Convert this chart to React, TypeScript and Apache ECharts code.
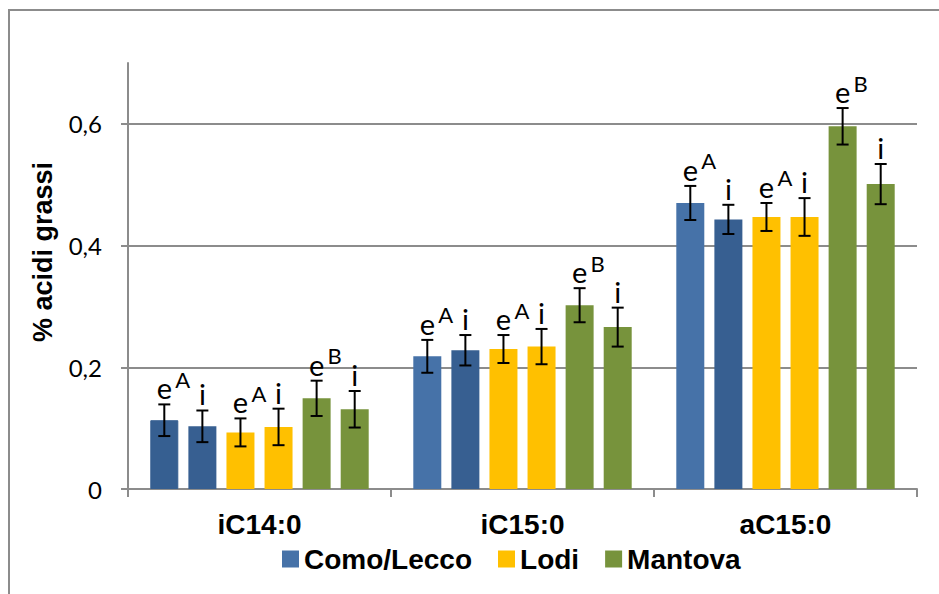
import React, { useEffect, useRef } from 'react';
import * as echarts from 'echarts';

const categories = ['iC14:0', 'iC15:0', 'aC15:0'];
const legendNames = ['Como/Lecco', 'Lodi', 'Mantova'];
const seriesNames = ['Como/Lecco', 'Como/Lecco (2)', 'Lodi', 'Lodi (2)', 'Mantova', 'Mantova (2)'];

const comoLecco1 = [0.113, 0.218, 0.470];
const comoLecco2 = [0.103, 0.228, 0.443];
const lodi1 = [0.093, 0.230, 0.447];
const lodi2 = [0.102, 0.234, 0.447];
const mantova1 = [0.149, 0.302, 0.596];
const mantova2 = [0.131, 0.266, 0.501];

const errComoLecco1 = [0.026, 0.027, 0.028];
const errComoLecco2 = [0.026, 0.025, 0.024];
const errLodi1 = [0.023, 0.023, 0.023];
const errLodi2 = [0.030, 0.029, 0.031];
const errMantova1 = [0.029, 0.028, 0.030];
const errMantova2 = [0.030, 0.032, 0.033];

const mainLabels = ['e', 'i', 'e', 'i', 'e', 'i'];
const supLabels = ['A', '', 'A', '', 'B', ''];
const yTicks = [0, 0.2, 0.4, 0.6];

const values = [comoLecco1, comoLecco2, lodi1, lodi2, mantova1, mantova2];
const errors = [errComoLecco1, errComoLecco2, errLodi1, errLodi2, errMantova1, errMantova2];
const colors = ['#4672A8', '#375F91', '#FFC000', '#FFC000', '#77933C', '#77933C'];

const BAR_W = 28;
const BAR_GAP = 0.36;

export default function App() {
  const ref = useRef<HTMLDivElement>(null);
  useEffect(() => {
    if (!ref.current) return;
    const chart = echarts.init(ref.current, null, { renderer: 'svg' });

    const barSeries = values.map((vals, k) => ({
      type: 'bar',
      name: seriesNames[k],
      barWidth: BAR_W,
      barGap: BAR_GAP * 100 + '%',
      itemStyle: { color: colors[k] },
      data: vals.map((v, c) =>
        k === 0 && c === 0
          ? { value: v, itemStyle: { color: '#365F91', borderColor: '#365F91', borderWidth: 1 } }
          : v
      ),
    }));

    const errData: number[][] = [];
    categories.forEach((_, c) => {
      values.forEach((vals, k) => {
        errData.push([c, k, vals[c], vals[c] - errors[k][c], vals[c] + errors[k][c]]);
      });
    });

    const errSeries = {
      type: 'custom',
      name: 'err',
      clip: false,
      encode: { x: 0, y: [2, 3, 4] },
      data: errData,
      z: 10,
      renderItem: (params: any, api: any) => {
        const c = api.value(0);
        const k = api.value(1);
        const lo = api.value(3);
        const hi = api.value(4);
        const pitch = BAR_W * (1 + BAR_GAP);
        const x = api.coord([c, 0])[0] + (k - 2.5) * pitch;
        const yHi = api.coord([c, hi])[1];
        const yLo = api.coord([c, lo])[1];
        const cap = 6;
        const ls = { stroke: '#000', lineWidth: 2 };
        const y0 = yHi - 2;
        const children: any[] = [
          { type: 'line', shape: { x1: x, y1: yHi, x2: x, y2: yLo }, style: ls },
          { type: 'line', shape: { x1: x - cap, y1: yHi, x2: x + cap, y2: yHi }, style: ls },
          { type: 'line', shape: { x1: x - cap, y1: yLo, x2: x + cap, y2: yLo }, style: ls },
          {
            type: 'text',
            x: x,
            y: y0,
            style: {
              text: mainLabels[k],
              fontSize: 29,
              fontFamily: 'Lato',
              fill: '#000',
              align: 'center',
              textAlign: 'center',
              verticalAlign: 'bottom',
              textVerticalAlign: 'bottom',
            },
          },
        ];
        if (supLabels[k]) {
          children.push({
            type: 'text',
            x: x + 11,
            y: y0 - 12,
            style: {
              text: supLabels[k],
              fontSize: 22,
              fontFamily: 'Lato',
              fill: '#000',
              align: 'left',
              textAlign: 'left',
              verticalAlign: 'bottom',
              textVerticalAlign: 'bottom',
            },
          });
        }
        return { type: 'group', children };
      },
    };

    const gray = '#8c8c8c';
    chart.setOption({
      animation: false,
      backgroundColor: '#ffffff',
      grid: { left: 128, right: 22, top: 63, bottom: 105, containLabel: false },
      legend: {
        data: legendNames,
        left: 277,
        top: 540,
        icon: 'rect',
        itemWidth: 17,
        itemHeight: 17,
        itemGap: 26,
        textStyle: { fontFamily: 'Liberation Sans', fontWeight: 'bold', fontSize: 28, color: '#000' },
      },
      xAxis: {
        type: 'category',
        data: categories,
        axisLine: { show: true, lineStyle: { color: gray, width: 2 } },
        axisTick: { show: true, length: 8, lineStyle: { color: gray, width: 2 } },
        axisLabel: {
          margin: 21,
          fontFamily: 'Liberation Sans',
          fontWeight: 'bold',
          fontSize: 28,
          color: '#000',
        },
        splitLine: { show: false },
      },
      yAxis: {
        type: 'value',
        min: 0,
        max: 0.7,
        interval: 0.2,
        axisLine: { show: true, lineStyle: { color: gray, width: 2 } },
        axisTick: { show: true, length: 7, lineStyle: { color: gray, width: 2 }, customValues: yTicks },
        axisLabel: {
          customValues: yTicks,
          margin: 26,
          fontFamily: 'Lato',
          fontSize: 24,
          color: '#000',
          formatter: (v: number) => (v > 0.65 ? '' : String(Math.round(v * 10) / 10).replace('.', ',')),
        },
        splitLine: {
          show: true,
          lineStyle: { color: [gray, gray, gray, gray, 'rgba(0,0,0,0)'], width: 2 },
        },
      },
      graphic: [
        {
          type: 'rect',
          shape: { x: 9, y: 10, width: 1200, height: 1200 },
          style: { fill: 'none', stroke: gray, lineWidth: 2 },
          silent: true,
        },
        {
          type: 'text',
          x: 43,
          y: 252,
          rotation: Math.PI / 2,
          style: {
            text: '% acidi grassi',
            fontFamily: 'Liberation Sans',
            fontWeight: 'bold',
            fontSize: 27,
            fill: '#000',
            align: 'center',
            textAlign: 'center',
            verticalAlign: 'middle',
            textVerticalAlign: 'middle',
          },
        },
      ],
      series: [...barSeries, errSeries],
    });
    return () => chart.dispose();
  }, []);
  return (
    <div
      ref={ref}
      style={{ position: 'fixed', left: 0, top: 0, width: 939, height: 594, background: '#fff' }}
    />
  );
}
